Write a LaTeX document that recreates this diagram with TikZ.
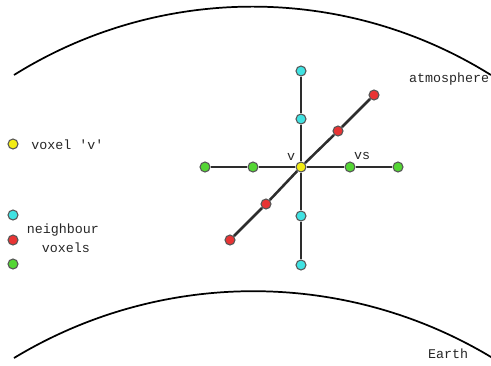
\documentclass[tikz,border=0pt]{standalone}
\usepackage{fontspec}
\setmonofont{Liberation Mono}
\usetikzlibrary{backgrounds}
\definecolor{cyn}{RGB}{64,226,226}
\definecolor{rd}{RGB}{232,52,52}
\definecolor{grn}{RGB}{84,214,52}
\definecolor{ylw}{RGB}{242,236,20}
\definecolor{edge}{RGB}{45,45,45}
\tikzset{
  dot/.style={circle,draw=edge!80,line width=0.8pt,minimum size=7.5pt,inner sep=0pt},
  link/.style={draw=edge,line width=1.9pt},
  lbl/.style={font=\ttfamily\fontsize{10}{12}\selectfont,inner sep=0pt,text=black!85},
  arcline/.style={draw=black,line width=1.3pt}
}
\begin{document}
\begin{tikzpicture}[x=0.75pt,y=0.75pt]
\useasboundingbox (0,0) rectangle (491,365);
% arcs
\draw[arcline] (14,290) arc[start angle=122, end angle=58, radius=337.5pt];
\draw[arcline] (14,7) arc[start angle=121.2, end angle=58.9, radius=346.5pt];
% central nodes
\node[dot,fill=ylw] (v) at (301,198) {};
\node[dot,fill=cyn] (c1) at (301,294) {};
\node[dot,fill=cyn] (c2) at (301,246) {};
\node[dot,fill=cyn] (c3) at (301,149) {};
\node[dot,fill=cyn] (c4) at (301,100) {};
\node[dot,fill=grn] (g1) at (205,198) {};
\node[dot,fill=grn] (g2) at (253,198) {};
\node[dot,fill=grn] (g3) at (350,198) {};
\node[dot,fill=grn] (g4) at (398,198) {};
\node[dot,fill=rd] (r1) at (374,270) {};
\node[dot,fill=rd] (r2) at (338,234) {};
\node[dot,fill=rd] (r3) at (266,161) {};
\node[dot,fill=rd] (r4) at (230,125) {};
\begin{pgfonlayer}{background}
\draw[link] (c1) -- (c2) -- (v) -- (c3) -- (c4);
\draw[link] (g1) -- (g2) -- (v) -- (g3) -- (g4);
\draw[link] (r1) -- (r2) -- (v) -- (r3) -- (r4);
\end{pgfonlayer}
% labels
\node[lbl] (lv) at (291,208) {v};
\node[lbl] (lvs) at (362,209) {vs};
\node[lbl] (atm) at (449,286) {atmosphere};
\node[lbl] (earth) at (448,11) {Earth};
% legend
\node[dot,fill=ylw] (ly) at (13,221) {};
\node[lbl,anchor=west] (tv) at (31,220) {voxel 'v'};
\node[dot,fill=cyn] (lc) at (13,150) {};
\node[dot,fill=rd] (lr) at (13,125) {};
\node[dot,fill=grn] (lg) at (13,101) {};
\node[lbl] (tn1) at (63,135) {neighbour};
\node[lbl] (tn2) at (66,117) {voxels};
\end{tikzpicture}
\end{document}
